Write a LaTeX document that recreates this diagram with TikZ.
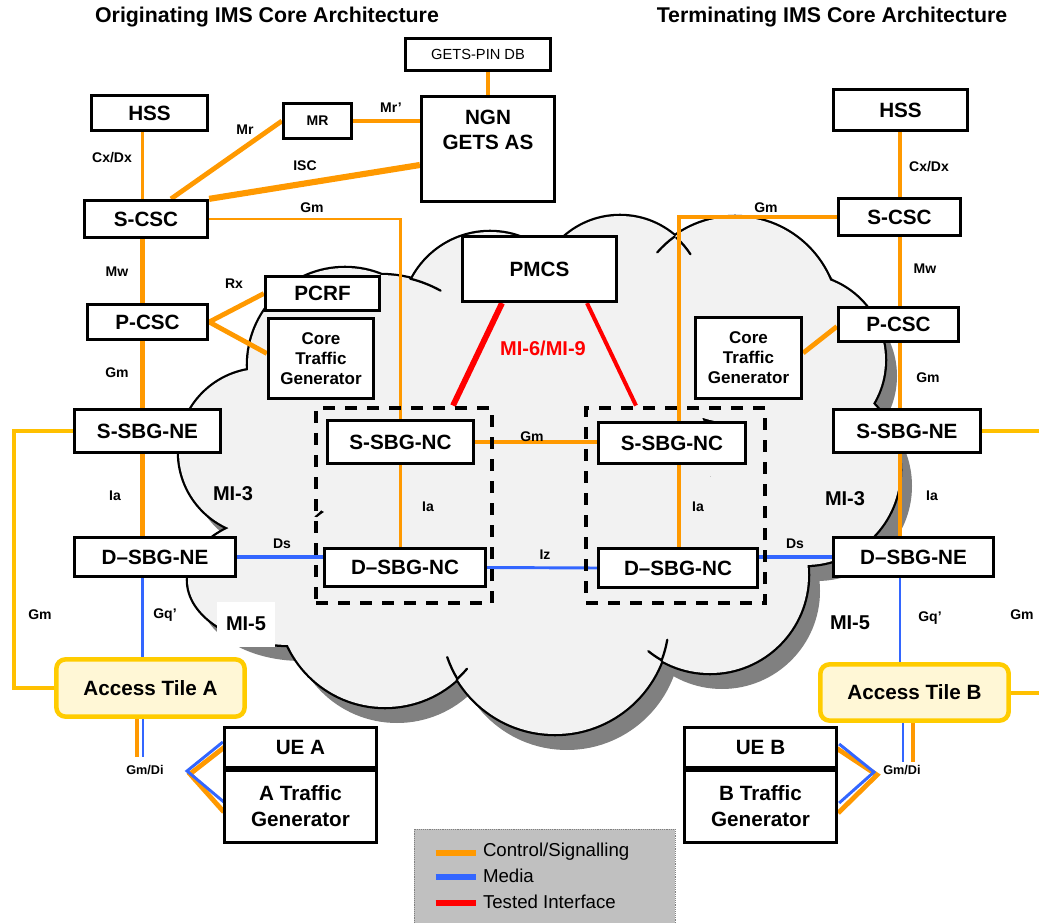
\documentclass[tikz,border=0pt]{standalone}
\usepackage{fontspec}
\setmainfont{Liberation Sans}
\usetikzlibrary{calc}

\definecolor{sigorange}{HTML}{FF9900}
\definecolor{medblue}{HTML}{3366FF}
\definecolor{testred}{HTML}{FF0000}
\definecolor{gmyellow}{HTML}{FFC000}
\definecolor{tileborder}{HTML}{FFCC00}
\definecolor{tilefill}{HTML}{FFF7D6}
\definecolor{cloudfill}{HTML}{F2F2F2}
\definecolor{cloudshade}{HTML}{808080}
\definecolor{legendfill}{HTML}{C0C0C0}

\pgfdeclarelayer{cloudlayer}
\pgfdeclarelayer{linklayer}
\pgfsetlayers{cloudlayer,linklayer,main}

% box given by its corners (x1,y1) (x2,y2)
\newcommand\boxat[7][]{%
  \node[box,#1,minimum width={(#5-#3)*0.75pt-2pt},minimum height={(#6-#4)*0.75pt-2pt}] (#2) at ({(#3+#5)/2},{(#4+#6)/2}) {#7};}

% the bumps of the core network cloud
\newcommand\cloudparts{%
  (345,365) circle[radius=97]
  (380,400) circle[radius=125]
  (490,320) circle[radius=88]
  (620,300) circle[radius=84]
  (735,320) circle[radius=103]
  (800,360) circle[radius=85]
  (805,470) circle[radius=95]
  (710,575) circle[radius=98]
  (555,620) circle[radius=114]
  (385,600) circle[radius=107]
  (262,452) circle[radius=83]
  (290,580) ellipse[x radius=102,y radius=65]}

% short overlapping arc ends where two bumps meet: centre, radius, from, to
\newcommand\cloudtail[5]{\draw[black,line width=1.7pt,line cap=round] (#1,#2) ++(#4:#3) arc[start angle=#4,end angle=#5,radius=#3];}

\begin{document}
\begin{tikzpicture}[x=0.75pt,y=-0.75pt,
  box/.style={draw,line width=2.2pt,fill=white,inner sep=0pt,align=center,
    font=\bfseries\fontsize{15.5}{19.5}\selectfont},
  smallbox/.style={font=\bfseries\fontsize{10.5}{12}\selectfont},
  dbbox/.style={font=\fontsize{11}{13}\selectfont},
  ctgfont/.style={font=\bfseries\fontsize{12.75}{15}\selectfont},
  tile/.style={box,draw=tileborder,fill=tilefill,line width=3.4pt,rounded corners=7pt},
  ncgroup/.style={draw,line width=3.6pt,dash pattern=on 9pt off 7.5pt,inner sep=0pt},
  iflabel/.style={font=\bfseries\fontsize{10.5}{12}\selectfont,inner sep=0pt},
  dilabel/.style={font=\bfseries\fontsize{9.5}{11}\selectfont,inner sep=0pt},
  milabel/.style={font=\bfseries\fontsize{15}{17}\selectfont,inner sep=0pt},
  titlefont/.style={font=\bfseries\fontsize{16}{19}\selectfont,inner sep=0pt},
  ctlthin/.style={draw=sigorange,line width=2.2pt},
  ctlthick/.style={draw=sigorange,line width=3.6pt},
  ctlheavy/.style={draw=sigorange,line width=4.6pt},
  medthin/.style={draw=medblue,line width=2.2pt},
  medthick/.style={draw=medblue,line width=3.4pt},
  gmline/.style={draw=gmyellow,line width=3pt},
  redheavy/.style={draw=testred,line width=4.4pt},
  redthin/.style={draw=testred,line width=3pt},
  legline/.style={line width=4.4pt},
  legtext/.style={font=\fontsize{14}{16}\selectfont,inner sep=0pt,anchor=west}]

\useasboundingbox (0,0) rectangle (1039,923);

% ---------- cloud ----------
\begin{pgfonlayer}{cloudlayer}
  \fill[cloudshade,shift={(12,16)}] \cloudparts;
  \draw[black,line width=3.4pt] \cloudparts;
  \fill[cloudfill] \cloudparts (530,470) circle[radius=180];
  \cloudtail{380}{400}{125}{-76}{-61}
  \cloudtail{620}{300}{84}{-48}{-33}
  \cloudtail{735}{320}{103}{-126}{-139}
  \cloudtail{555}{620}{114}{149}{161}
  \cloudtail{385}{600}{107}{48}{40}
  \cloudtail{555}{620}{114}{21}{10}
  \cloudtail{710}{575}{98}{120}{129}
\end{pgfonlayer}

% ---------- titles ----------
\node[titlefont] (titleA) at (267,17) {Originating IMS Core Architecture};
\node[titlefont] (titleB) at (832,17) {Terminating IMS Core Architecture};

% ---------- originating side ----------
\boxat[dbbox]{getsdb}{404}{37}{552}{72}{GETS-PIN DB}
\boxat{ngn}{420}{95}{556}{203}{}
\node[font=\bfseries\fontsize{15.5}{19}\selectfont,align=center,inner sep=0pt] (ngntext) at (488,130) {NGN\\GETS AS};
\boxat{hssA}{90}{94}{209}{132}{HSS}
\boxat[smallbox]{mr}{282}{102}{353}{140}{MR}
\boxat{scscA}{83}{199}{209}{239}{S-CSC}
\boxat{pcscA}{86}{303}{209}{341}{P-CSC}
\boxat{pcrf}{264}{275}{381}{312}{PCRF}
\boxat[ctgfont]{ctgA}{267}{317}{375}{400}{Core\\Traffic\\Generator}
\boxat{ssbgneA}{73}{408}{222}{454}{S-SBG-NE}
\boxat{dsbgneA}{73}{536}{237}{578}{D–SBG-NE}
\boxat{ssbgncA}{326}{419}{475}{465}{S-SBG-NC}
\boxat{dsbgncA}{323}{547}{487}{588}{D–SBG-NC}
\node[ncgroup,minimum width={176*0.75pt},minimum height={195*0.75pt}] (dashA) at (404,505.5) {};
\boxat[tile]{accA}{55}{658}{246}{718}{Access Tile A}
\boxat{ueA}{223}{726}{378}{769}{UE A}
\boxat{tgA}{223}{769}{378}{844}{A Traffic\\Generator}

% ---------- middle ----------
\boxat{pmcs}{461}{235}{618}{303}{PMCS}

% ---------- terminating side ----------
\boxat{hssB}{832}{88}{969}{132}{HSS}
\boxat{scscB}{837}{197}{962}{237}{S-CSC}
\boxat{pcscB}{837}{306}{960}{343}{P-CSC}
\boxat[ctgfont]{ctgB}{694}{316}{803}{400}{Core\\Traffic\\Generator}
\boxat{ssbgneB}{832}{408}{982}{454}{S-SBG-NE}
\boxat{dsbgneB}{832}{536}{995}{578}{D–SBG-NE}
\boxat{ssbgncB}{597}{421}{747}{465}{S-SBG-NC}
\boxat{dsbgncB}{597}{547}{759}{589}{D–SBG-NC}
\node[ncgroup,minimum width={179*0.75pt},minimum height={195*0.75pt}] (dashB) at (675.5,505.5) {};
\boxat[tile]{accB}{819}{663}{1010}{722}{Access Tile B}
\boxat{ueB}{683}{726}{838}{769}{UE B}
\boxat{tgB}{683}{769}{838}{844}{B Traffic\\Generator}

% ---------- reference-point labels ----------
\node[milabel] (mi3A) at (233,494) {MI-3};
\node[milabel,fill=white,minimum width={58*0.75pt},minimum height={45*0.75pt}] (mi5A) at (246,624) {MI-5};
\node[milabel] (mi3B) at (845,499) {MI-3};
\node[milabel,fill=white,minimum width={60*0.75pt},minimum height={47*0.75pt}] (mi5B) at (850,623) {MI-5};
\node[milabel,text=testred] (mi69) at (543,348) {MI-6/MI-9};

% ---------- interface labels ----------
\node[iflabel] (lcxA) at (112,158) {Cx/Dx};
\node[iflabel] (lmr) at (245,130) {Mr};
\node[iflabel] (lmrp) at (391,108) {Mr’};
\node[iflabel] (lisc) at (305,166) {ISC};
\node[iflabel] (lgmA1) at (312,208) {Gm};
\node[iflabel] (lmwA) at (117,272) {Mw};
\node[iflabel] (lrx) at (234,284) {Rx};
\node[iflabel] (lgmA2) at (117,373) {Gm};
\node[iflabel] (liaA) at (115,496) {Ia};
\node[iflabel] (ldsA) at (282,544) {Ds};
\node[iflabel] (liaNA) at (428,507) {Ia};
\node[iflabel] (lgmA3) at (40,615) {Gm};
\node[iflabel] (lgqA) at (165,615) {Gq’};
\node[dilabel] (ldiA) at (145,770) {Gm/Di};
\node[iflabel] (lgmNC) at (532,437) {Gm};
\node[iflabel] (liz) at (545,555) {Iz};
\node[iflabel] (lcxB) at (929,167) {Cx/Dx};
\node[iflabel] (lgmB1) at (766,208) {Gm};
\node[iflabel] (lmwB) at (925,269) {Mw};
\node[iflabel] (lgmB2) at (928,378) {Gm};
\node[iflabel] (liaB) at (932,496) {Ia};
\node[iflabel] (liaNB) at (698,507) {Ia};
\node[iflabel] (ldsB) at (795,544) {Ds};
\node[iflabel] (lgqB) at (930,618) {Gq’};
\node[iflabel] (lgmB3) at (1022,615) {Gm};
\node[dilabel] (ldiB) at (902,770) {Gm/Di};

% ---------- legend ----------
\node[draw=gray,densely dotted,thin,fill=legendfill,minimum width={261*0.75pt},minimum height={96*0.75pt},inner sep=0pt] (legend) at (544.5,877) {};
\draw[legline,sigorange] ($(legend.north west)+(22,24)$) -- ++(40,0);
\draw[legline,medblue] ($(legend.north west)+(22,48)$) -- ++(40,0);
\draw[legline,testred] ($(legend.north west)+(22,74)$) -- ++(40,0);
\node[legtext] (legctl) at ($(legend.north west)+(69,23)$) {Control/Signalling};
\node[legtext] (legmed) at ($(legend.north west)+(69,47)$) {Media};
\node[legtext] (legtst) at ($(legend.north west)+(69,73)$) {Tested Interface};

% ---------- connectors ----------
\coordinate (xL) at (142.5,0);
\coordinate (xR) at (900,0);
\coordinate (xNCB) at (679,0);
\coordinate (edgeR) at (1045,0);
\coordinate (diAo) at (137,757);
\coordinate (diAb) at (143,757);
\coordinate (diBb) at (903,762);
\coordinate (diBo) at (913,762);
\coordinate (vAo) at (190,774);
\coordinate (vAb) at (187,771);
\coordinate (vBo) at (877,775);
\coordinate (vBb) at (874,772);

\begin{pgfonlayer}{linklayer}
  % originating core
  \draw[ctlthick] (ngn.north) -- (ngn.north |- getsdb.south);
  \draw[ctlthick] (mr.east) -- (mr.east -| ngn.west);
  \draw[ctlthick] ($(scscA.north)+(25,0)$) -- (mr.west);
  \draw[ctlheavy] (scscA.north east) -- ($(ngn.west)+(0,16)$);
  \draw[ctlthin] (scscA.east) -| (ssbgncA.north);
  \draw[ctlthin] (hssA.south -| xL) -- (scscA.north -| xL);
  \draw[ctlthick] (scscA.south -| xL) -- (pcscA.north -| xL);
  \draw[ctlthick] (pcscA.south -| xL) -- (ssbgneA.north -| xL);
  \draw[ctlthick] (ssbgneA.south -| xL) -- (dsbgneA.north -| xL);
  \draw[medthin] (dsbgneA.south -| xL) -- (accA.north -| xL);
  \draw[ctlthick] (pcscA.east) -- (pcrf.west);
  \draw[ctlthick] (pcscA.east) -- ($(ctgA.west)+(0,-5)$);
  \draw[gmline] (ssbgneA.west) -- ++(-59,0) |- (accA.west);
  \draw[medthick] (dsbgneA.east) -- (dsbgneA.east -| dsbgncA.west);
  \draw[ctlthin] (ssbgncA.south) -- (ssbgncA.south |- dsbgncA.north);
  % between the two sides
  \draw[ctlthick] (ssbgncA.east) -- (ssbgncA.east -| ssbgncB.west);
  \draw[medthin] (dsbgncA.east) -- (dsbgncB.west);
  \draw[redheavy] ($(pmcs.south)+(-37.5,0)$) -- ($(dashA.north)+(49,0)$);
  \draw[redthin] ($(pmcs.south)+(47.5,0)$) -- ($(dashB.north)+(-39.5,0)$);
  % originating access
  \draw[ctlthick] (accA.south -| diAo) -- (diAo);
  \draw[medthin] (accA.south -| diAb) -- (diAb);
  \draw[ctlthick] ($(ueA.west)+(3,-1.5)$) -- (vAo) -- ($(tgA.west)+(1,5.5)$);
  \draw[medthin] ($(ueA.west)+(0,-5.5)$) -- (vAb) -- ($(tgA.west)+(1,-4.5)$);
  % terminating core
  \draw[ctlthick] (hssB.south -| xR) -- (scscB.north -| xR);
  \draw[ctlthick] (scscB.west) -| (ssbgncB.north -| xNCB);
  \draw[ctlthick] (scscB.south -| xR) -- (pcscB.north -| xR);
  \draw[ctlthick] ($(pcscB.west)+(0,2)$) -- ($(ctgB.east)+(0,-5)$);
  \draw[ctlthick] (pcscB.south -| xR) -- (ssbgneB.north -| xR);
  \draw[ctlthick] (ssbgneB.south -| xR) -- (dsbgneB.north -| xR);
  \draw[medthin] (dsbgneB.south -| xR) -- (accB.north -| xR);
  \draw[medthick] (dsbgncB.east |- dsbgneB.west) -- (dsbgneB.west);
  \draw[ctlthick] (ssbgncB.south -| xNCB) -- (dsbgncB.north -| xNCB);
  \draw[gmline] (ssbgneB.east) -- (ssbgneB.east -| edgeR);
  \draw[gmline] (accB.east) -- (accB.east -| edgeR);
  % terminating access
  \draw[medthin] (accB.south -| diBb) -- (diBb);
  \draw[ctlthick] (accB.south -| diBo) -- (diBo);
  \draw[ctlthick] ($(ueB.east)+(-5,-1.5)$) -- (vBo) -- ($(tgB.east)+(0,6.5)$);
  \draw[medthin] ($(ueB.east)+(1,-3.5)$) -- (vBb) -- ($(tgB.east)+(1,-3.5)$);
\end{pgfonlayer}
\end{tikzpicture}
\end{document}
